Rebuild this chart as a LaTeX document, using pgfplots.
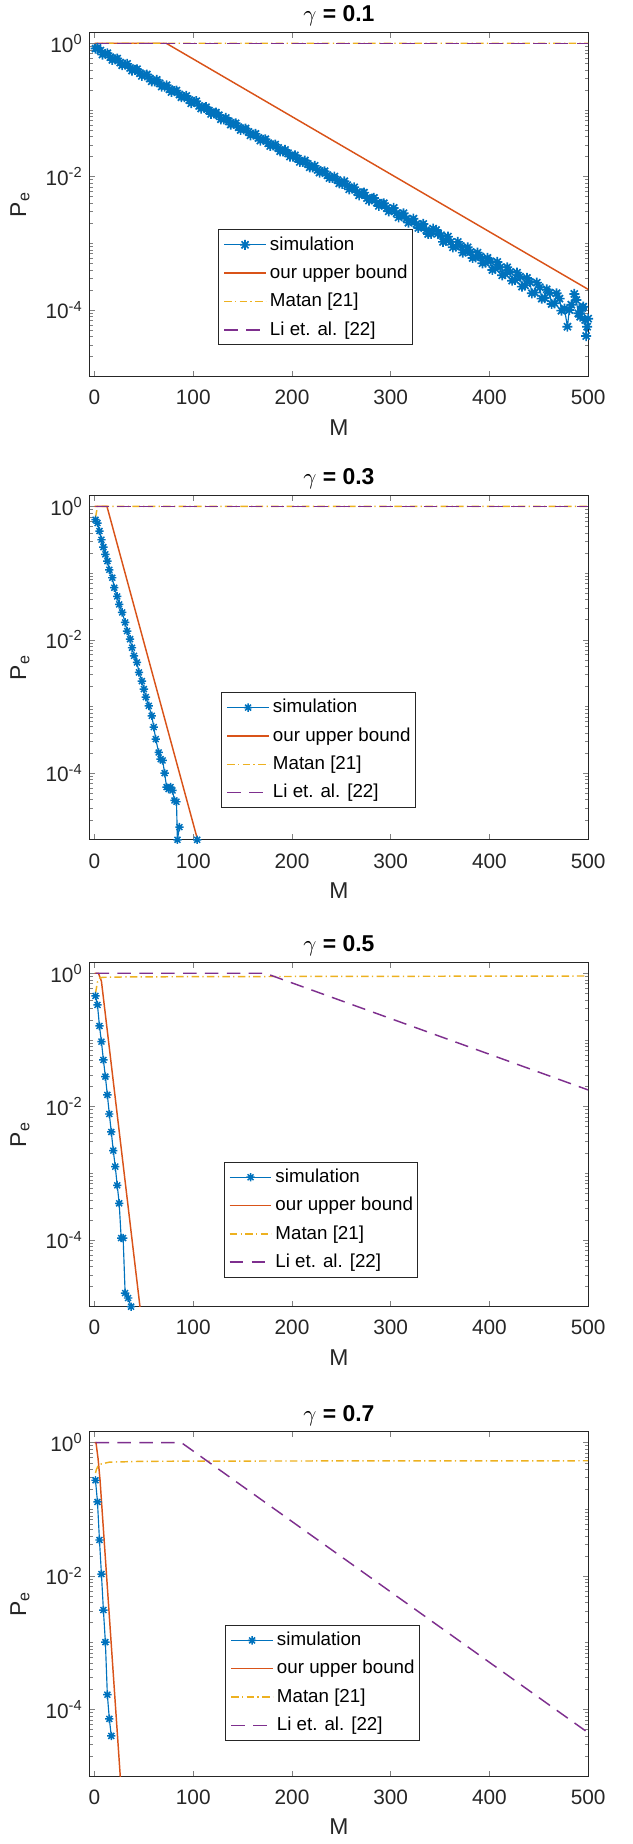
\documentclass[border=0pt]{standalone}
\usepackage{fontspec}
\setmainfont{Liberation Sans}
\usepackage{pgfplots}
\pgfplotsset{compat=1.18}
\definecolor{mblue}{rgb}{0,0.447,0.741}
\definecolor{morange}{rgb}{0.85,0.325,0.098}
\definecolor{myellow}{rgb}{0.929,0.694,0.125}
\definecolor{mpurple}{rgb}{0.494,0.184,0.556}
\definecolor{axgray}{rgb}{0.15,0.15,0.15}
\pgfdeclareplotmark{mstar}{%
  \pgfpathmoveto{\pgfqpoint{-\pgfplotmarksize}{0pt}}\pgfpathlineto{\pgfqpoint{\pgfplotmarksize}{0pt}}%
  \pgfpathmoveto{\pgfqpoint{0pt}{-\pgfplotmarksize}}\pgfpathlineto{\pgfqpoint{0pt}{\pgfplotmarksize}}%
  \pgfpathmoveto{\pgfqpoint{-0.707\pgfplotmarksize}{-0.707\pgfplotmarksize}}\pgfpathlineto{\pgfqpoint{0.707\pgfplotmarksize}{0.707\pgfplotmarksize}}%
  \pgfpathmoveto{\pgfqpoint{-0.707\pgfplotmarksize}{0.707\pgfplotmarksize}}\pgfpathlineto{\pgfqpoint{0.707\pgfplotmarksize}{-0.707\pgfplotmarksize}}%
  \pgfusepathqstroke}
\pgfplotsset{legend image code/.code={\draw[mark repeat=2,mark phase=2,#1] plot coordinates {(0pt,0pt) (10pt,0pt) (20pt,0pt)};}}
\pgfplotsset{
  every axis title/.style={font=\bfseries\fontsize{11}{13}\selectfont, inner sep=0pt, at={(axis description cs:0.5,1)}, anchor=base, yshift=5.1pt},
  every axis x label/.style={font=\fontsize{11}{13}\selectfont, text=axgray, inner sep=0pt, at={(axis description cs:0.5,0)}, anchor=north, yshift=-20.3pt},
  every axis y label/.style={font=\fontsize{11}{13}\selectfont, text=axgray, inner sep=0pt, at={(axis description cs:-0.1275,0.5)}, rotate=90, anchor=base},
  every axis/.append style={
    scale only axis, width=239.3pt, height=165.3pt,
    xmin=-5, xmax=500, ymin=1e-5, ymax=1.46,
    unbounded coords=jump,
    xtick={0,100,200,300,400,500},
    xticklabels={0,100,200,300,400,500},
    ytick={1e-4,1e-2,1},
    yticklabels={10\textsuperscript{-4},10\textsuperscript{-2},10\textsuperscript{0}},
    minor ytick={2e-5,3e-5,4e-5,5e-5,6e-5,7e-5,8e-5,9e-5,2e-4,3e-4,4e-4,5e-4,6e-4,7e-4,8e-4,9e-4,1e-3,2e-3,3e-3,4e-3,5e-3,6e-3,7e-3,8e-3,9e-3,2e-2,3e-2,4e-2,5e-2,6e-2,7e-2,8e-2,9e-2,1e-1,2e-1,3e-1,4e-1,5e-1,6e-1,7e-1,8e-1,9e-1},
    tick align=inside, major tick length=2.6pt, minor tick length=1.5pt,
    axis line style={draw=axgray, line width=0.5pt},
    xticklabel style={font=\fontsize{10}{12}\selectfont, text=axgray, inner sep=0pt, anchor=north, yshift=-6.4pt},
    yticklabel style={font=\fontsize{10}{12}\selectfont, text=axgray, inner sep=0pt, anchor=east, xshift=-3.1pt},
    xlabel={M},
    ylabel={P\textsubscript{e}},
    legend style={anchor=north west, font=\fontsize{9}{10.8}\selectfont, draw=axgray, line width=0.5pt,
      inner xsep=2.3pt, inner ysep=2.7pt, row sep=4.6pt, column sep=1.6pt,
      nodes={inner sep=0pt, text height=7pt, text depth=2pt}, cells={anchor=west}},
}}
\tikzset{
  sim/.style={mblue, line width=0.55pt, mark=mstar, mark size=2pt, mark options={solid, line width=0.7pt}},
  bnd/.style={morange, line width=0.7pt},
  mat/.style={myellow, line width=0.7pt, dash pattern=on 3.6pt off 1.6pt on 0.6pt off 1.6pt},
  lili/.style={mpurple, line width=0.7pt, dash pattern=on 6.5pt off 4pt},
}
\begin{document}
\begin{tikzpicture}
\useasboundingbox (0,0) rectangle (303.36pt,-885.12pt);
% ---------------- gamma = 0.1
\begin{axis}[ymode=log, at={(43pt,-15.5pt)}, anchor=north west, title={$\gamma$ = 0.1}, legend style={at={(0.258,0.428)}}]
\addplot[sim, mark size=2.4pt, mark options={solid, line width=0.8pt}] coordinates {
(1,0.832) (3,0.851) (6,0.776) (8,0.676) (11,0.692) (13,0.708) (16,0.617) (18,0.562) (21,0.575) (23,0.589)
(26,0.513) (28,0.468) (31,0.479) (33,0.490) (36,0.427) (38,0.389) (41,0.398) (43,0.407) (46,0.355) (48,0.324)
(51,0.331) (53,0.339) (56,0.295) (58,0.269) (61,0.269) (63,0.282) (66,0.251) (68,0.224) (71,0.224) (73,0.234)
(76,0.204) (78,0.186) (81,0.191) (83,0.195) (86,0.170) (88,0.155) (91,0.155) (93,0.162) (96,0.141) (98,0.126)
(101,0.132) (103,0.135) (106,0.115) (108,0.105) (111,0.107) (113,0.110) (116,0.0977) (118,0.0871) (121,0.0891) (123,0.0912)
(126,0.0832) (128,0.0724) (131,0.0724) (133,0.0759) (136,0.0676) (138,0.0603) (141,0.0617) (143,0.0631) (146,0.0550) (148,0.0501)
(151,0.0513) (153,0.0525) (156,0.0468) (158,0.0417) (161,0.0427) (163,0.0437) (166,0.0380) (168,0.0347) (171,0.0355) (173,0.0363)
(176,0.0316) (178,0.0288) (181,0.0295) (183,0.0302) (186,0.0269) (188,0.0240) (191,0.0240) (193,0.0251) (196,0.0224) (198,0.0200)
(201,0.0200) (203,0.0209) (206,0.0186) (208,0.0166) (211,0.0166) (213,0.0174) (216,0.0155) (218,0.0138) (221,0.0138) (223,0.0145)
(226,0.0126) (228,0.0115) (231,0.0117) (233,0.0120) (236,0.0105) (238,9.55e-3) (241,9.55e-3) (243,0.0100) (246,8.91e-3) (248,7.94e-3)
(251,7.76e-3) (253,8.51e-3) (256,7.41e-3) (258,6.46e-3) (261,6.61e-3) (263,6.92e-3) (266,5.89e-3) (268,5.25e-3) (271,5.62e-3) (273,5.75e-3)
(276,4.79e-3) (278,4.37e-3) (281,4.68e-3) (283,4.79e-3) (286,4.07e-3) (288,3.63e-3) (291,3.89e-3) (293,3.98e-3) (296,3.39e-3) (298,3.02e-3)
(301,3.16e-3) (303,3.39e-3) (306,2.82e-3) (308,2.45e-3) (311,2.69e-3) (313,2.82e-3) (316,2.34e-3) (318,2.04e-3) (321,2.19e-3) (323,2.34e-3)
(326,1.95e-3) (328,1.70e-3) (331,1.86e-3) (333,1.95e-3) (336,1.58e-3) (338,1.38e-3) (341,1.38e-3) (343,1.66e-3) (346,1.58e-3) (348,1.41e-3)
(351,1.32e-3) (353,1.05e-3) (356,1.10e-3) (358,1.26e-3) (361,1.05e-3) (363,8.71e-4) (366,8.91e-4) (368,1.05e-3) (371,9.12e-4) (373,7.24e-4)
(376,7.59e-4) (378,8.71e-4) (381,7.41e-4) (383,6.03e-4) (386,6.17e-4) (388,7.24e-4) (391,6.31e-4) (393,5.01e-4) (396,5.13e-4) (398,6.03e-4)
(401,5.37e-4) (403,3.98e-4) (406,4.17e-4) (408,5.25e-4) (411,4.37e-4) (413,3.31e-4) (416,3.47e-4) (418,4.37e-4) (421,3.72e-4) (423,2.75e-4)
(426,2.82e-4) (428,3.63e-4) (431,3.16e-4) (433,2.24e-4) (436,2.34e-4) (438,3.02e-4) (441,2.63e-4) (443,1.78e-4) (446,1.82e-4) (448,2.57e-4)
(451,2.19e-4) (453,1.48e-4) (456,1.51e-4) (458,2.04e-4) (461,1.82e-4) (463,1.23e-4) (466,1.26e-4) (468,1.78e-4) (471,1.48e-4) (473,9.77e-5)
(476,1.05e-4) (479,5.62e-5) (481,1.0e-4) (483,1.20e-4) (486,1.74e-4) (488,1.41e-4) (490,8.91e-5) (492,7.94e-5) (494,1.07e-4) (495,1.12e-4)
(497,7.08e-5) (498,4.07e-5) (499,5.62e-5) (500,7.41e-5)
};
\addplot[bnd] coordinates {(0,1) (72.6,1) (500,2.04e-4)};
\addplot[mat] coordinates {(1,0.8) (3,1) (500,1)};
\addplot[lili] coordinates {(1,1) (500,1)};
\legend{simulation, our upper bound, Matan [21], Li et. al. [22]}
\end{axis}
% ---------------- gamma = 0.3
\begin{axis}[ymode=log, at={(43pt,-237.8pt)}, anchor=north west, title={$\gamma$ = 0.3}, legend style={at={(0.264,0.429)}}]
\addplot[sim] coordinates {
(1,0.631) (3,0.562) (5,0.427) (7,0.316) (9,0.245) (11,0.191) (13,0.151) (15,0.112) (18,0.0851) (20,0.0603)
(23,0.0447) (25,0.0339) (28,0.0257) (31,0.0182) (33,0.0135) (36,0.0102) (38,7.59e-3) (40,5.75e-3) (43,4.57e-3) (45,3.24e-3)
(48,2.40e-3) (50,1.82e-3) (52,1.38e-3) (55,1.02e-3) (58,7.24e-4) (60,4.90e-4) (62,3.24e-4) (65,2.04e-4) (67,1.62e-4) (69,1.55e-4)
(71,1.00e-4) (73,6.17e-5) (75,5.75e-5) (77,6.17e-5) (79,5.50e-5) (81,3.89e-5) (83,3.72e-5) (84,1.0e-5) (86,1.55e-5) (88,nan) (104,1.0e-5)
};
\addplot[bnd] coordinates {(0,1) (12.6,1) (104.4,1e-5) (110,4.95e-6)};
\addplot[mat] coordinates {(1,0.68) (3,1) (500,1)};
\addplot[lili] coordinates {(1,1) (500,1)};
\legend{simulation, our upper bound, Matan [21], Li et. al. [22]}
\end{axis}
% ---------------- gamma = 0.5
\begin{axis}[ymode=log, at={(43pt,-461.9pt)}, anchor=north west, title={$\gamma$ = 0.5}, legend style={at={(0.269,0.421)}}]
\addplot[sim] coordinates {
(1,0.457) (3,0.335) (5,0.162) (7,0.0944) (9,0.0501) (11,0.0282) (13,0.0150) (15,7.76e-3) (17,4.17e-3) (19,2.19e-3)
(21,1.26e-3) (23,6.61e-4) (25,3.55e-4) (27,1.07e-4) (29,1.07e-4) (31,1.6e-5) (34,1.35e-5) (37,1.0e-5)
};
\addplot[bnd] coordinates {(0,1) (4,1) (7,0.76) (50,3.2e-6)};
\addplot[mat] coordinates {(1,0.5) (3,0.74) (5,0.84) (8,0.87) (30,0.88) (100,0.89) (300,0.9) (500,0.91)};
\addplot[lili] coordinates {(1,1) (173,1) (500,0.0178)};
\legend{simulation, our upper bound, Matan [21], Li et. al. [22]}
\end{axis}
% ---------------- gamma = 0.7
\begin{axis}[ymode=log, at={(43pt,-687.2pt)}, anchor=north west, title={$\gamma$ = 0.7}, legend style={at={(0.272,0.439)}}]
\addplot[sim] coordinates {
(1,0.273) (3,0.129) (5,0.0347) (7,0.0107) (9,3.09e-3) (11,1.02e-3) (13,1.66e-4) (15,7.2e-5) (17,4.0e-5)
};
\addplot[bnd] coordinates {(0,1) (1.5,1) (3.6,0.575) (5.6,0.275) (28,3.8e-6)};
\addplot[mat] coordinates {(1,0.35) (2,0.4) (4,0.46) (7,0.48) (15,0.51) (50,0.525) (150,0.53) (500,0.535)};
\addplot[lili] coordinates {(1,1) (88,1) (500,4.47e-5)};
\legend{simulation, our upper bound, Matan [21], Li et. al. [22]}
\end{axis}
\end{tikzpicture}
\end{document}
